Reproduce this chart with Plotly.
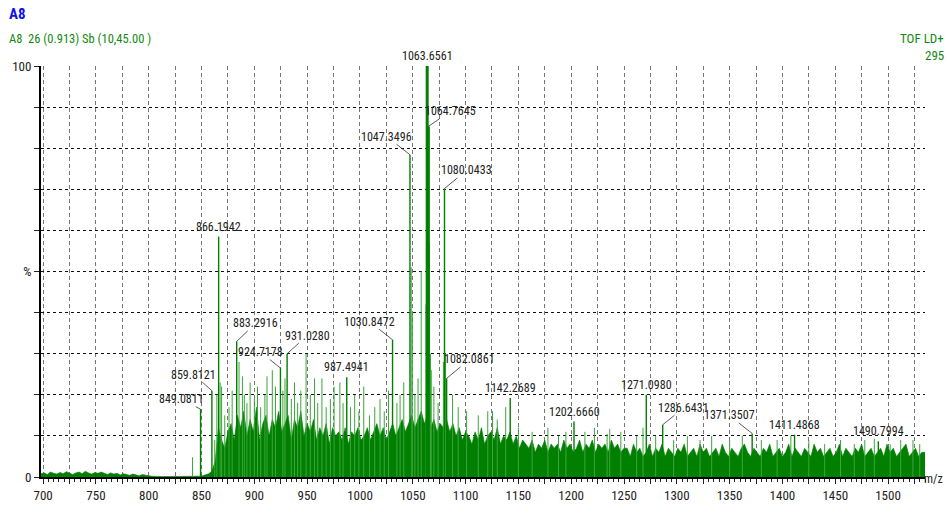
import plotly.graph_objects as go

# ---------------------------------------------------------------- data
# m/z window of the acquisition
mz_min, mz_max = 698, 1535

# Baseline / chemical noise, sampled every 3 m/z (intensity in % of base peak)
noise_step = 3
noise_low_start = 698
noise_low = [0.8, 1.0, 0.6, 1.2, 0.9, 0.7, 1.1, 0.8, 1.3, 0.9, 0.6, 1.0, 1.2, 0.8, 1.4, 1.0, 0.7,
             1.1, 0.9, 1.2, 0.8, 0.6, 1.0, 0.7, 0.9, 0.5, 0.8, 0.6, 0.4, 0.7, 0.5, 0.3, 0.6]
noise_gap_start = 797
noise_gap = [0.4, 0.3, 0.2, 0.1, 0.1, 0.1, 0.1, 0.1, 0.1, 0.1, 0.1, 0.1, 0.1, 0.1, 0.1,
             0.2, 0.1, 0.2, 0.3, 0.5, 0.8]
noise_a_start = 860
noise_a = [1.5, 4, 12, 9, 7, 11, 13, 9, 15, 12, 16, 10, 14, 11, 17, 9, 13, 15, 10, 14,
           12, 16, 11, 13, 15, 9, 14, 12, 16, 10, 13, 11, 14, 9, 12, 10, 13, 8, 12, 10,
           11, 9, 12, 8, 11, 10, 12, 9]
noise_b_start = 1004
noise_b = [10, 12, 9, 11, 13, 10, 12, 9, 11, 13, 10, 12, 14, 11, 13, 15, 12, 14, 16, 13,
           15, 12, 14, 11, 13, 12, 14, 11, 13, 10, 12, 9, 11]
noise_c_start = 1103
noise_c = [10, 8, 11, 9, 12, 8, 10, 11, 9, 12, 8, 10, 9, 11, 8, 10, 7, 9, 8, 7,
           9, 6, 8, 7, 9, 6, 8, 7, 8, 6, 9, 7, 8, 6, 7, 9, 6, 8, 7, 9,
           6, 8, 7, 8, 6, 9, 7, 8, 6, 7]
noise_d_start = 1253
noise_d = [7, 5, 8, 6, 7, 5, 6, 8, 5, 7, 6, 8, 5, 7, 6, 5, 7, 6, 8, 5,
           6, 7, 5, 8, 6, 7, 5, 6, 7, 5, 8, 6, 5, 7, 6, 5, 7, 8, 6, 5,
           7, 6, 5, 7, 6, 8, 5, 6, 7, 5, 6, 8, 5, 7, 6, 5, 7, 6, 5, 8,
           6, 7, 5, 6, 7, 5, 6, 8, 5, 7, 6, 5, 7, 6, 8, 5, 6, 7, 5, 6,
           7, 5, 8, 6, 7, 5, 6, 7, 8, 5, 6, 7, 5, 6, 6]

# Unlabelled spikes standing out of the noise
spike_mz = [841.5, 862.5, 864.5, 867.6, 869.0, 872.0, 876.0, 879.0, 885.5, 888.7, 890.5,
            893.0, 896.0, 900.0, 903.0, 906.0, 910.0, 912.0, 917.0, 920.0, 927.0, 929.0,
            935.0, 938.0, 941.0, 944.0, 949.0, 953.0, 957.0, 960.0, 964.0, 968.0, 972.0,
            975.5, 981.0, 984.0, 991.0, 995.0, 999.0, 1003.6, 1009.0, 1014.0, 1019.0,
            1023.0, 1027.0, 1035.0, 1038.0, 1041.5, 1048.5, 1049.6, 1052.0, 1055.0,
            1058.0, 1062.5, 1065.8, 1066.8, 1067.5, 1070.0, 1074.0, 1079.0, 1081.0,
            1087.7, 1093.0, 1101.0, 1112.0, 1121.0, 1125.5, 1130.0, 1138.0, 1150.0,
            1163.0, 1178.0, 1188.0, 1195.0, 1213.0, 1222.0, 1234.0, 1236.5, 1247.0,
            1262.0, 1268.0, 1280.0, 1297.0, 1310.0, 1322.0, 1333.0, 1350.0, 1362.0,
            1380.0, 1395.0, 1408.0, 1425.0, 1440.0, 1455.0, 1468.0, 1478.0, 1487.0,
            1502.0, 1512.0, 1523.6, 1530.0]
spike_int = [4.8, 9, 20, 23, 22, 15, 17, 21, 28, 24.5, 20,
             18, 23, 19, 22, 17, 20, 24.5, 26, 22, 21, 24,
             19, 23, 18, 21, 30, 20, 24, 18, 24, 17, 19,
             22, 23, 18, 17, 20, 16, 22, 15, 17, 19,
             16, 21, 18, 20, 23, 51, 40, 20, 24,
             50, 42, 57, 30, 26, 22, 18, 28, 30,
             20, 17, 16, 15, 16, 16, 14, 17, 12,
             11, 12, 10, 11, 11, 12, 10.5, 11.7, 11,
             10, 12, 10, 9, 10, 9, 10, 9, 10,
             9, 9, 10, 9, 8, 9, 8, 9, 9.3,
             8, 9, 9, 8]

# Annotated peaks
peak_mz = [849.0811, 859.8121, 866.1942, 883.2916, 924.7178, 931.0280, 987.4941,
           1030.8472, 1047.3496, 1063.6561, 1064.7645, 1080.0433, 1082.0861,
           1142.2689, 1202.6660, 1271.0980, 1286.6431, 1371.3507, 1411.4868, 1490.7994]
peak_int = [16.5, 21.0, 58.5, 33.0, 26.5, 30.0, 24.3,
            33.4, 78.4, 100.0, 85.3, 70.2, 24.0,
            19.2, 13.5, 20.0, 12.7, 10.6, 10.3, 8.7]

x_tick_values = list(range(700, 1501, 50))
y_tick_labels = {0: "0", 50: "%", 100: "100"}

# ---------------------------------------------------------------- styling
FONT = "Liberation Sans Narrow, Arial Narrow, Roboto Condensed, Liberation Sans, Arial"
GREEN = "#007f00"
SPIKE = "#3aa53a"

W, H = 947, 515
M_L, M_R, M_T, M_B = 37, 22, 66, 33
PLOT_W, PLOT_H = W - M_L - M_R, H - M_T - M_B


def paper_x(px):
    return (px - M_L) / PLOT_W


def paper_y(py):
    return (H - M_B - py) / PLOT_H


# label offsets (pixels) for peaks whose label sits beside the line with a leader
leader_offsets = {
    849.0811: (-19, -10), 859.8121: (-18, -16), 883.2916: (19, -18),
    924.7178: (-20, -16), 931.0280: (20, -18), 1030.8472: (-23, -18),
    1047.3496: (-23, -18), 1064.7645: (22, -15), 1080.0433: (22, -18),
    1082.0861: (23, -19), 1286.6431: (21, -17), 1371.3507: (-23, -18),
}


def sampled(start, values):
    return [start + noise_step * i for i in range(len(values))], list(values)


noise_x, noise_y = [], []
for start, vals in [(noise_low_start, noise_low), (noise_gap_start, noise_gap),
                    (noise_a_start, noise_a), (noise_b_start, noise_b),
                    (noise_c_start, noise_c), (noise_d_start, noise_d)]:
    xs, ys = sampled(start, vals)
    noise_x += xs
    noise_y += ys


def stems(xs, ys):
    sx, sy = [], []
    for x, y in zip(xs, ys):
        sx += [x, x, None]
        sy += [0, y, None]
    return sx, sy


fig = go.Figure()

fig.add_trace(go.Scatter(
    x=noise_x, y=noise_y, mode="lines", fill="tozeroy",
    line=dict(color=GREEN, width=0.6), fillcolor=GREEN, hoverinfo="skip",
))

sx, sy = stems(spike_mz, spike_int)
fig.add_trace(go.Scatter(x=sx, y=sy, mode="lines", line=dict(color=SPIKE, width=1),
                         hoverinfo="skip"))

px_, py_ = stems(peak_mz, peak_int)
fig.add_trace(go.Scatter(x=px_, y=py_, mode="lines", line=dict(color=GREEN, width=1.4),
                         hoverinfo="skip"))

# the two most intense lines are drawn heavier
bx, by = stems(peak_mz[9:11], peak_int[9:11])
fig.add_trace(go.Scatter(x=bx, y=by, mode="lines", line=dict(color=GREEN, width=3),
                         hoverinfo="skip"))

annotations = []
for mz, inten in zip(peak_mz, peak_int):
    label = f"{mz:.4f}"
    if mz in leader_offsets:
        dx, dy = leader_offsets[mz]
        annotations.append(dict(
            x=mz, y=inten, xref="x", yref="y", text=label, showarrow=True,
            arrowhead=0, arrowwidth=0.8, arrowcolor="#333333", standoff=0,
            ax=dx, ay=dy, axref="pixel", ayref="pixel",
            font=dict(family=FONT, size=12, color="#222222"), borderpad=0,
        ))
    else:
        annotations.append(dict(
            x=mz, y=inten, xref="x", yref="y", text=label, showarrow=False,
            yanchor="middle", yshift=10,
            font=dict(family=FONT, size=12, color="#222222"), borderpad=0,
        ))

# header texts
annotations += [
    dict(x=paper_x(4), y=paper_y(13), xref="paper", yref="paper", xanchor="left",
         yanchor="middle", text="<b>A8</b>", showarrow=False, borderpad=0,
         font=dict(family=FONT, size=15, color="#1010ee")),
    dict(x=paper_x(4), y=paper_y(38), xref="paper", yref="paper", xanchor="left",
         yanchor="middle", text="A8  26 (0.913) Sb (10,45.00 )", showarrow=False,
         borderpad=0, font=dict(family=FONT, size=12.5, color="#118a11")),
    dict(x=paper_x(945), y=paper_y(38), xref="paper", yref="paper", xanchor="right",
         yanchor="middle", text="TOF LD+", showarrow=False, borderpad=0,
         font=dict(family=FONT, size=13, color="#118a11")),
    dict(x=paper_x(945), y=paper_y(55), xref="paper", yref="paper", xanchor="right",
         yanchor="middle", text="295", showarrow=False, borderpad=0,
         font=dict(family=FONT, size=13, color="#118a11")),
    dict(x=paper_x(944), y=paper_y(484), xref="paper", yref="paper", xanchor="right",
         yanchor="middle", text="m/z", showarrow=False, borderpad=0,
         font=dict(family=FONT, size=12, color="#222222")),
]

fig.update_layout(
    width=W, height=H,
    margin=dict(l=M_L, r=M_R, t=M_T, b=M_B),
    paper_bgcolor="white", plot_bgcolor="white",
    showlegend=False,
    annotations=annotations,
    font=dict(family=FONT, size=13, color="#222222"),
)

fig.update_xaxes(
    range=[mz_min, mz_max],
    tickvals=list(range(700, 1526, 25)),
    ticktext=[str(v) if v in x_tick_values else "" for v in range(700, 1526, 25)],
    ticks="outside", ticklen=5, tickcolor="#222222",
    showgrid=True, gridcolor="#777777", griddash="4px,3px", gridwidth=1,
    minor=dict(dtick=5, ticks="outside", ticklen=3, tickcolor="#222222", showgrid=False),
    showline=True, linecolor="black", linewidth=2,
    zeroline=False, layer="above traces",
    tickfont=dict(family=FONT, size=13, color="#222222"),
)

fig.update_yaxes(
    range=[0, 100],
    tickvals=list(range(0, 101, 10)),
    ticktext=[y_tick_labels.get(v, "") for v in range(0, 101, 10)],
    ticks="outside", ticklen=5, tickcolor="#222222",
    showgrid=True, gridcolor="#111111", griddash="dot", gridwidth=1,
    showline=True, linecolor="black", linewidth=2,
    zeroline=False, layer="above traces",
    tickfont=dict(family=FONT, size=13, color="#222222"),
)

fig.write_html("out.html")
